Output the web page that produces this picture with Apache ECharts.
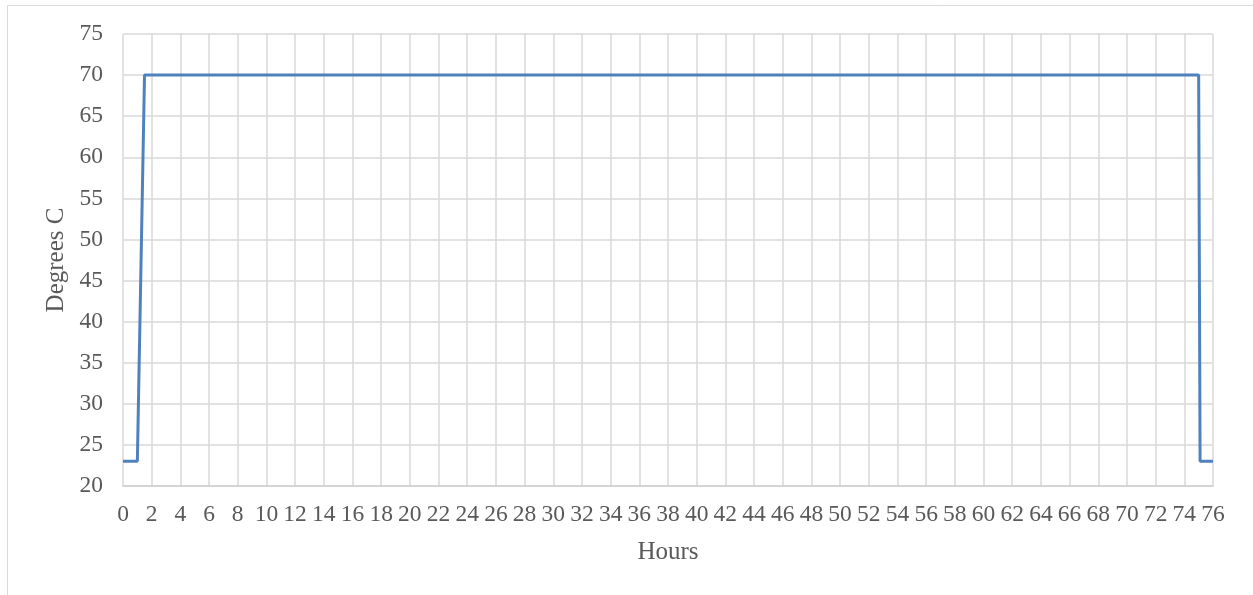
<!DOCTYPE html>
<html><head><meta charset="utf-8">
<script src="https://cdn.jsdelivr.net/npm/echarts@6/dist/echarts.min.js"></script>
<style>html,body{margin:0;padding:0;background:#fff}#c{width:1253px;height:595px}</style>
</head><body><div id="c"></div>
<script>
var hours = [0, 1, 1.5, 75, 75.1, 76];
var temps = [23, 23, 70, 70, 23, 23];
var xTitle = 'Hours';
var yTitle = 'Degrees C';
var chart = echarts.init(document.getElementById('c'));
var font = 'Liberation Serif';
chart.setOption({
  animation: false,
  backgroundColor: '#fff',
  graphic: [{type:'rect', shape:{x:7.5,y:5.5,width:1260,height:600}, style:{fill:'none',stroke:'#d9d9d9',lineWidth:1}}],
  grid: {left:123, right:40, top:34, bottom:109},
  xAxis: {
    type:'value', min:0, max:76, interval:2,
    name: xTitle, nameLocation:'middle', nameGap:54,
    nameTextStyle:{fontFamily:font,fontSize:25,color:'#595959'},
    axisLine:{show:true,lineStyle:{color:'#d0d0d0',width:1.5}},
    axisTick:{show:false},
    axisLabel:{fontFamily:font,fontSize:23.5,color:'#595959',margin:17},
    splitLine:{show:true,lineStyle:{color:'#d9d9d9',width:1.5}}
  },
  yAxis: {
    type:'value', min:20, max:75, interval:5,
    name: yTitle, nameLocation:'middle', nameGap:53,
    nameTextStyle:{fontFamily:font,fontSize:25,color:'#595959'},
    axisLine:{show:false}, axisTick:{show:false},
    axisLabel:{fontFamily:font,fontSize:23.5,color:'#595959',margin:20},
    splitLine:{show:true,lineStyle:{color:'#d9d9d9',width:1.5}}
  },
  series: [{
    type:'line', data: hours.map(function(h,i){return [h,temps[i]];}),
    showSymbol:false, lineStyle:{color:'#4f81bd',width:3}
  }]
});
</script></body></html>
